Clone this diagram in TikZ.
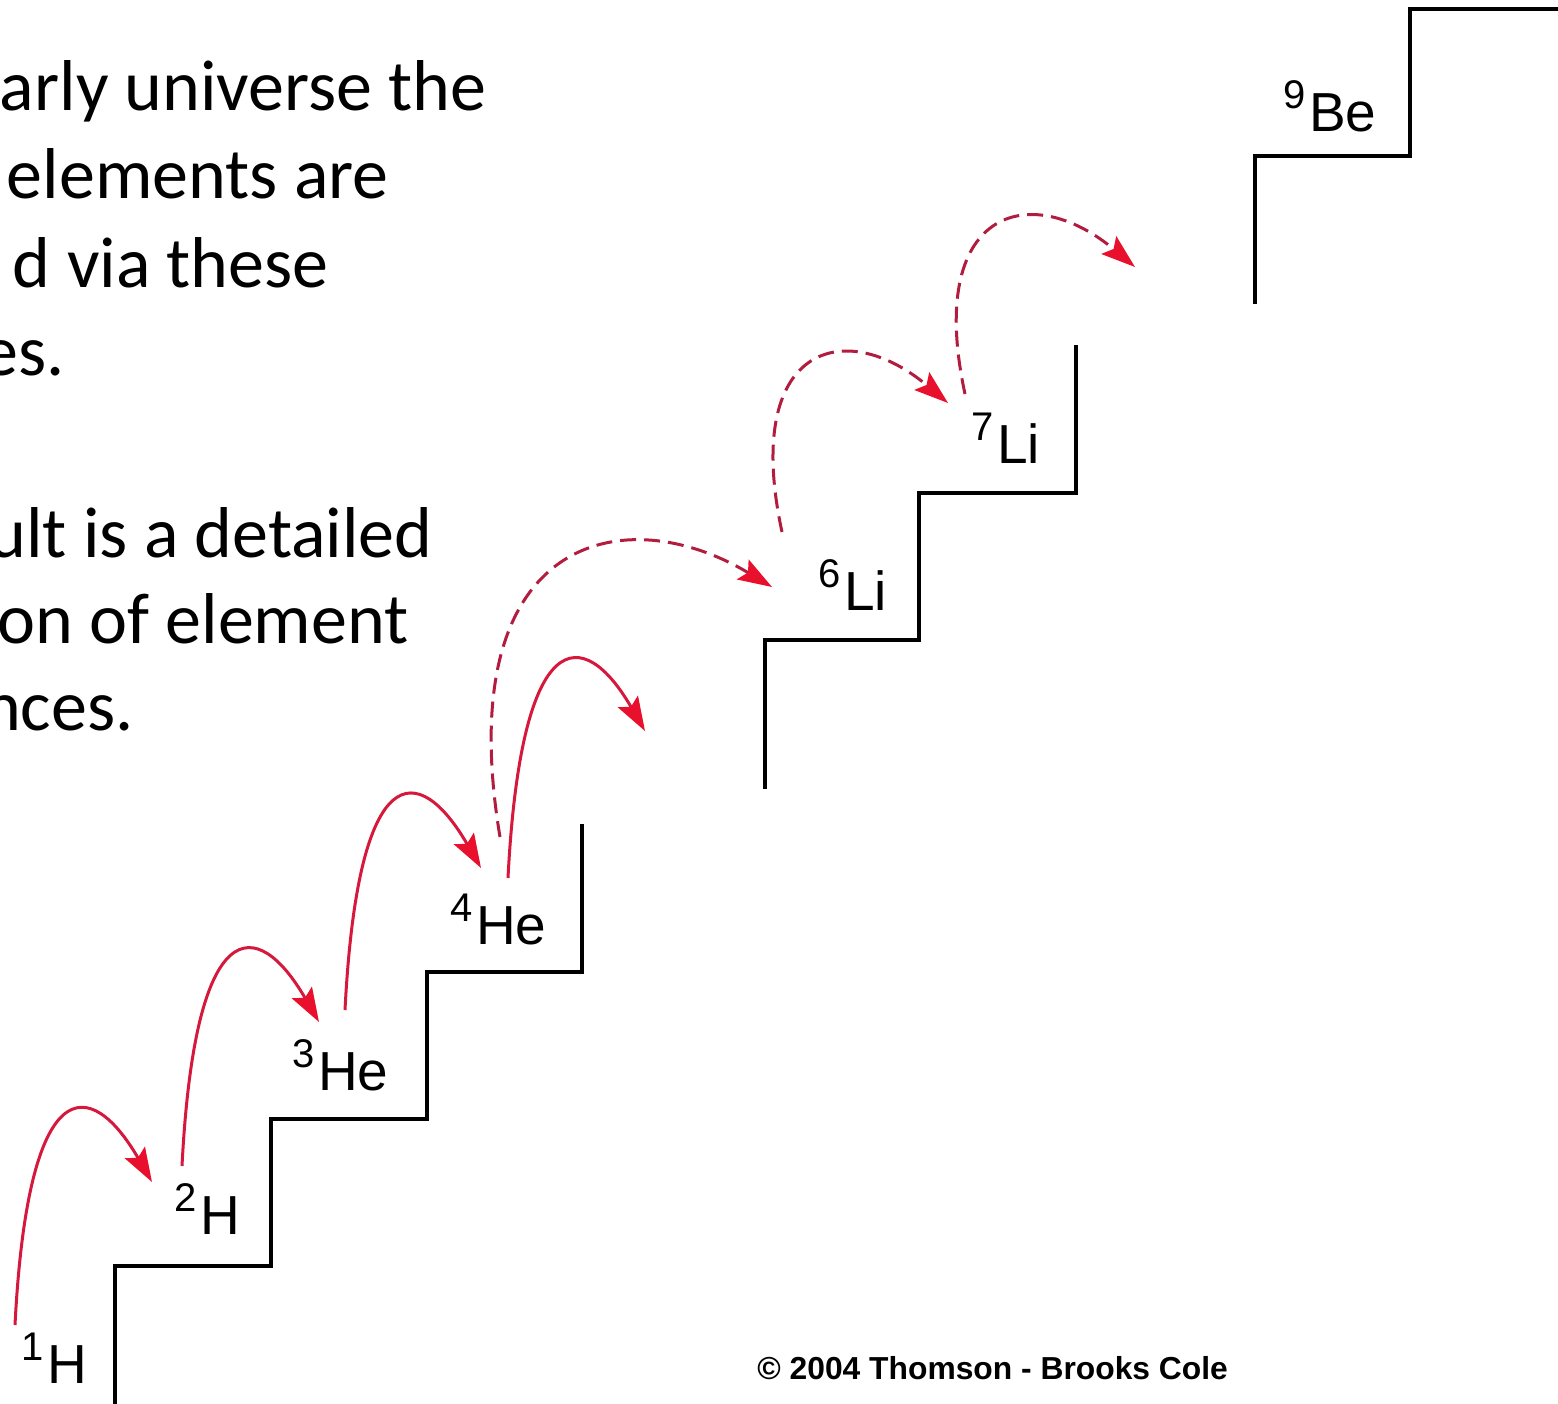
\documentclass[tikz,border=0pt]{standalone}
\usepackage{fontspec}
\setmainfont{Carlito}
\newfontfamily\labelfont{Liberation Sans}
\usetikzlibrary{arrows.meta}
\definecolor{arrowred}{RGB}{214,24,60}
\definecolor{dashred}{RGB}{178,28,62}
\definecolor{headred}{RGB}{232,16,44}
\newcommand{\isolabel}[2]{{\labelfont\fontsize{27.5}{30}\selectfont\raisebox{11.5pt}{\fontsize{20}{20}\selectfont #1}\kern1.8pt #2}}
\begin{document}
\begin{tikzpicture}[x=0.5pt,y=-0.5pt,
  stair/.style={line width=1.6pt, line join=miter, line cap=rect, black},
  bodytext/.style={inner sep=0pt, anchor=base east, font=\fontsize{36}{44}\selectfont},
  iso/.style={inner sep=0pt, anchor=base west},
  jump/.style={line width=1.5pt, draw=arrowred, -{Stealth[length=17pt,width=11.5pt,inset=3pt,color=headred]}},
  dashjump/.style={jump, draw=dashred, dash pattern=on 8pt off 4pt},
]
\useasboundingbox (0,0) rectangle (1558,1403);
\clip (0,0) rectangle (1558,1403);

% text fragments
\node[bodytext] (t1) at (487,110) {arly universe the};
\node[bodytext] (t2) at (389,198) {elements are};
\node[bodytext] (t3) at (329,287) {d via these};
\node[bodytext] (t4) at (65,375) {es.};
\node[bodytext] (t5) at (433,557) {ult is a detailed};
\node[bodytext] (t6) at (409,643) {on of element};
\node[bodytext] (t7) at (134,730) {nces.};

% staircase
\draw[stair] (115,1410) -- (115,1266) -- (271,1266) -- (271,1119) -- (427,1119) -- (427,972) -- (582,972) -- (582,826);
\draw[stair] (765,787) -- (765,640) -- (919,640) -- (919,493) -- (1076,493) -- (1076,347);
\draw[stair] (1255,302) -- (1255,156) -- (1410,156) -- (1410,9) -- (1570,9);

% isotope labels
\node[iso] (h1) at (21,1383) {\isolabel{1}{H}};
\node[iso] (h2) at (174,1234) {\isolabel{2}{H}};
\node[iso] (he3) at (292,1090) {\isolabel{3}{He}};
\node[iso] (he4) at (450,944) {\isolabel{4}{He}};
\node[iso] (li6) at (818,610) {\isolabel{6}{Li}};
\node[iso] (li7) at (971,463) {\isolabel{7}{Li}};
\node[iso] (be9) at (1283,131) {\isolabel{9}{Be}};

% copyright
\node[inner sep=0pt, anchor=base west, font=\labelfont\bfseries\fontsize{15.9}{18}\selectfont] (copy) at (757,1379) {© 2004 Thomson - Brooks Cole};

% arrow end points
\coordinate (a1s) at (15,1325);  \coordinate (a1e) at (152,1182);
\coordinate (a2s) at (182,1166); \coordinate (a2e) at (319,1022);
\coordinate (a3s) at (345,1010); \coordinate (a3e) at (481,868);
\coordinate (a4s) at (508,878);  \coordinate (a4e) at (645,731);
\coordinate (d5s) at (500,837);  \coordinate (d5e) at (772,587);
\coordinate (d6s) at (782,532);  \coordinate (d6e) at (948,403);
\coordinate (d7s) at (965,394);  \coordinate (d7e) at (1135,267);

% solid jumps
\draw[jump] (a1s) .. controls +(13,-255) and +(-62,-107) .. (a1e);
\draw[jump] (a2s) .. controls +(13,-255) and +(-62,-107) .. (a2e);
\draw[jump] (a3s) .. controls +(13,-255) and +(-62,-107) .. (a3e);
\draw[jump] (a4s) .. controls +(13,-255) and +(-62,-107) .. (a4e);

% dashed jumps
\draw[dashjump] (d5s) .. controls +(-50,-300) and +(-150,-90) .. (d5e);
\draw[dashjump] (d6s) .. controls +(-40,-185) and +(-105,-88) .. (d6e);
\draw[dashjump] (d7s) .. controls +(-40,-185) and +(-105,-88) .. (d7e);
\end{tikzpicture}
\end{document}
